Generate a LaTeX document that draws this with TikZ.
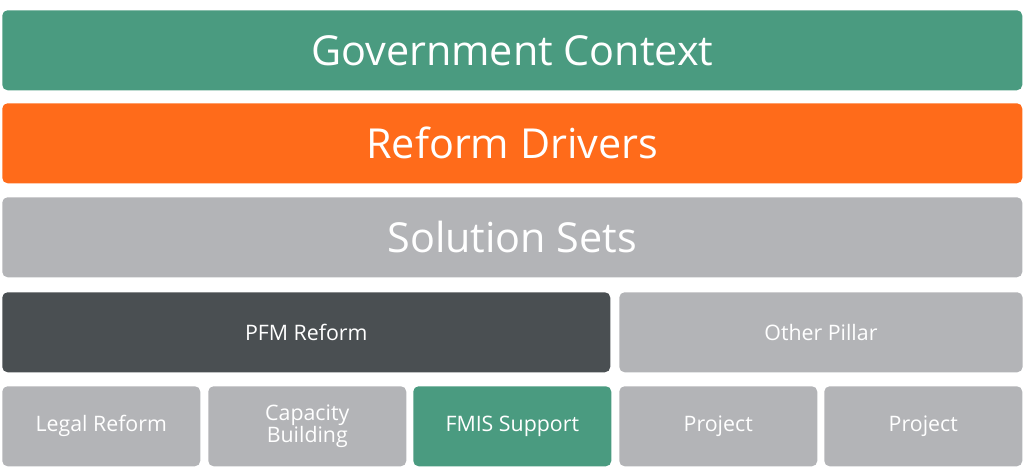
\documentclass[tikz,border=0pt]{standalone}
\usepackage{fontspec}
\setmainfont{Open Sans}
\definecolor{ctxgreen}{HTML}{4A9B80}
\definecolor{drvorange}{HTML}{FF6B1A}
\definecolor{setgray}{HTML}{B3B4B7}
\definecolor{pfmdark}{HTML}{4A4F52}
\tikzset{
  bar/.style={rectangle, rounded corners=4pt, anchor=north west, text=white, inner sep=0pt, align=center},
  big/.style={bar, minimum width=765pt, minimum height=60pt, font=\fontsize{31}{36}\selectfont},
  mid/.style={bar, minimum height=60pt, font=\fontsize{16}{19}\selectfont},
  small/.style={bar, minimum width=148.5pt, minimum height=60pt, font=\fontsize{16}{19}\selectfont}
}
\begin{document}
\begin{tikzpicture}[x=0.75pt, y=-0.75pt]
\useasboundingbox (0,0) rectangle (1024,471);
% top bars
\node (context) [big, fill=ctxgreen] at (2,10) {Government Context};
\node (drivers) [big, fill=drvorange] at (2,103) {Reform Drivers};
\node (solutions) [big, fill=setgray] at (2,197) {Solution Sets};
% pillars
\node (pfm) [mid, fill=pfmdark, minimum width=456pt] at (2,292) {PFM Reform};
\node (other) [mid, fill=setgray, minimum width=302.5pt] at (619,292) {Other Pillar};
% projects
\node (legal) [small, fill=setgray] at (2,386) {Legal Reform};
\node (capacity) [small, fill=setgray] at (208,386) {Capacity\\[-2pt]Building};
\node (fmis) [small, fill=ctxgreen] at (413,386) {FMIS Support};
\node (projecta) [small, fill=setgray] at (619,386) {Project};
\node (projectb) [small, fill=setgray] at (824,386) {Project};
\end{tikzpicture}
\end{document}
